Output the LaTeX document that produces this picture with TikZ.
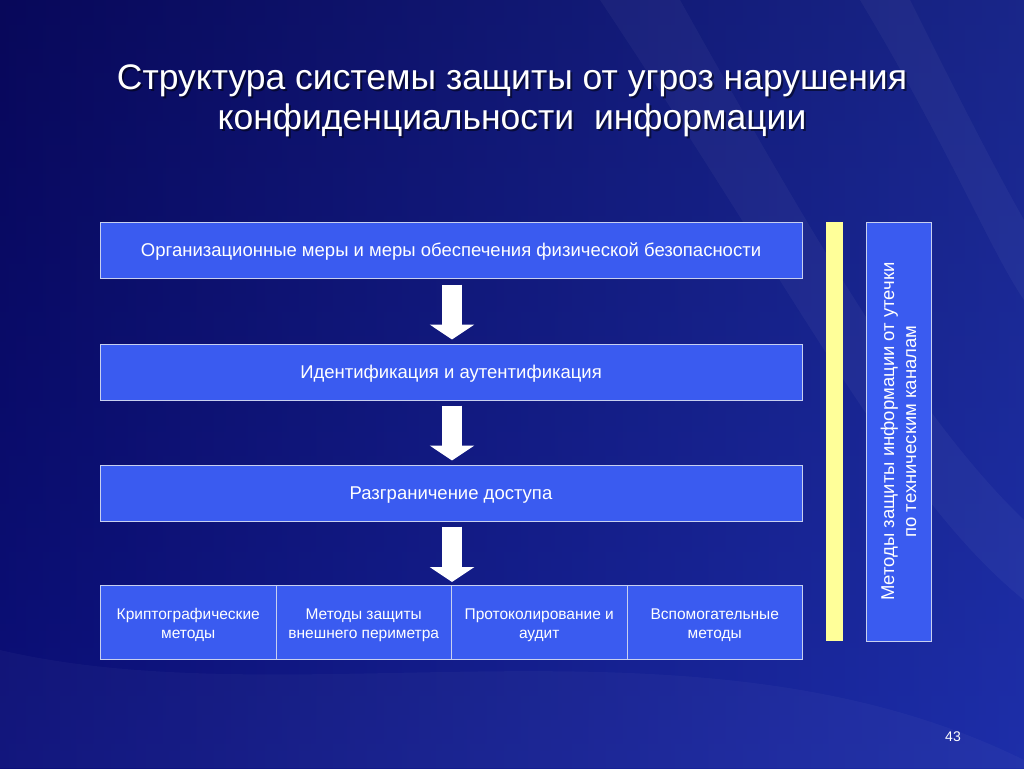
\documentclass[tikz,border=0pt]{standalone}
\usepackage{fontspec}
\setmainfont{Liberation Sans}
\usetikzlibrary{arrows.meta}
\definecolor{bgdark}{HTML}{08085A}
\definecolor{bgmid}{HTML}{10189A}
\definecolor{bglight}{HTML}{2A44B8}
\definecolor{boxblue}{HTML}{3A5BF0}
\definecolor{boxline}{HTML}{C8D0F0}
\definecolor{paleyellow}{HTML}{FFFF99}
\tikzset{
  stage/.style={draw=boxline, line width=1pt, fill=boxblue, minimum width=702pt, minimum height=56pt, inner sep=0pt, text=white, text height=13pt, text depth=0pt, font=\fontsize{18.5}{22}\selectfont},
  cell/.style={draw=boxline, line width=1pt, fill=boxblue, minimum width=175.5pt, minimum height=74pt, inner sep=0pt, text=white, align=center, text height=33pt, text depth=0pt, font=\fontsize{15.5}{19}\selectfont},
  blockarrow/.style={draw=white, line width=20pt, -{Triangle[width=44pt,length=15pt]}},
  titletext/.style={text=white, align=center, font=\fontsize{35.5}{40}\selectfont}
}
\begin{document}
\begin{tikzpicture}[x=1pt,y=-1pt]
\useasboundingbox (0,0) rectangle (1024,768);
\shade[top color=bgdark, bottom color=bgmid] (0,0) rectangle (1024,768);
\shade[left color=bgdark, right color=bglight, opacity=0.5] (0,0) rectangle (1024,768);
% faint streaks
\fill[white, opacity=0.04] (600,0) .. controls (800,300) and (900,500) .. (1024,600) -- (1024,520) .. controls (920,420) and (820,250) .. (680,0) -- cycle;
\fill[white, opacity=0.04] (860,0) .. controls (950,150) and (990,250) .. (1024,300) -- (1024,220) .. controls (990,160) and (950,80) .. (910,0) -- cycle;
\fill[white, opacity=0.03] (0,650) .. controls (300,720) and (700,600) .. (1024,760) -- (1024,768) -- (0,768) -- cycle;

% title
\node[titletext, text=black, opacity=0.5] at (514,103) {Структура системы защиты от угроз нарушения\\конфиденциальности\ \ информации};
\node[titletext] (title) at (512,101) {Структура системы защиты от угроз нарушения\\конфиденциальности\ \ информации};

% main stages
\node[stage] (s1) at (451,250) {Организационные меры и меры обеспечения физической безопасности};
\node[stage] (s2) at (451,372) {Идентификация и аутентификация};
\node[stage] (s3) at (451,493) {Разграничение доступа};

% bottom row
\node[cell] (c1) at (188.25,622) {Криптографические\\методы};
\node[cell] (c2) at (363.75,622) {Методы защиты\\внешнего периметра};
\node[cell] (c3) at (539.25,622) {Протоколирование и\\аудит};
\node[cell] (c4) at (714.75,622) {Вспомогательные\\методы};
\coordinate (rowtop) at (452,585);

% arrows
\draw[blockarrow] ([xshift=1pt,yshift=-6pt]s1.south) -- ([xshift=1pt,yshift=4pt]s2.north);
\draw[blockarrow] ([xshift=1pt,yshift=-5pt]s2.south) -- ([xshift=1pt,yshift=4pt]s3.north);
\draw[blockarrow] ([xshift=1pt,yshift=-5pt]s3.south) -- ([yshift=3pt]rowtop);

% yellow bar
\node[fill=paleyellow, draw=none, minimum width=17pt, minimum height=419pt, inner sep=0pt] (bar) at (834.5,431.5) {};

% right box
\node[draw=boxline, line width=1pt, fill=boxblue, rotate=90, minimum width=419pt, minimum height=65pt, inner sep=0pt, text=white, align=center, font=\fontsize{18.5}{22}\selectfont] (leak) at (898.5,431.5) {Методы защиты информации от утечки\\по техническим каналам};

% page number
\node[text=white, font=\fontsize{14}{16}\selectfont] (pg) at (953,737) {43};
\end{tikzpicture}
\end{document}
